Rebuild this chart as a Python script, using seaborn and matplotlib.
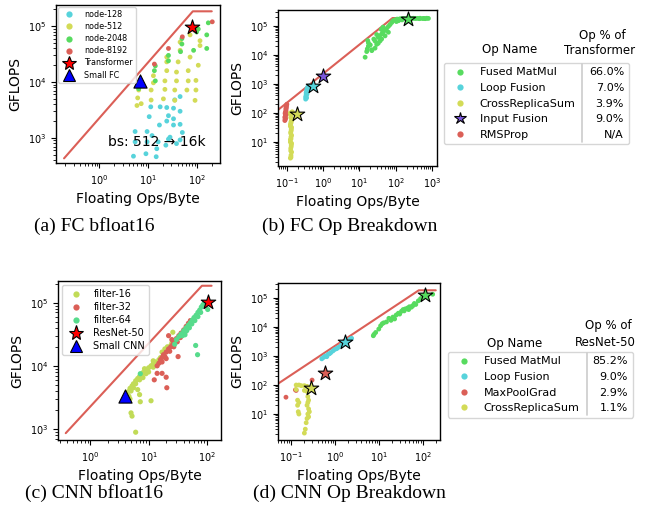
import matplotlib
matplotlib.use("Agg")
import matplotlib.pyplot as plt
from matplotlib.lines import Line2D
import pandas as pd
import seaborn as sns

W, H = 651, 516

RED = "#db5f57"
YEL = "#d3db57"
GRN = "#57db5f"
CYN = "#57d3db"
PUR = "#7b57db"
F16 = "#c1db57"
F64 = "#57db8c"

# ---- (a) FC bfloat16 ----
a_n128_x = [5.0, 9.0, 15, 23, 38, 5.4, 9.5, 16, 26, 45, 5.4, 9.5, 17, 24, 33, 45, 10.5, 17.6,
            26, 33, 35, 24, 45, 11.3, 33, 45, 28, 50, 14.6, 12]
a_n128_y = [470, 520, 640, 740, 790, 850, 850, 850, 950, 920, 1300, 1300, 1700, 2000, 2200, 3000,
            2400, 3600, 2500, 3400, 4800, 3500, 5500, 3600, 1700, 1750, 1030, 1250, 460, 1100]
a_n512_x = [6.1, 6.4, 5.9, 7.2, 11.5, 11.5, 12.8, 20.5, 22, 22, 24, 38, 38, 41, 45, 24, 24, 35,
            62, 66, 66, 72, 72, 95, 95, 106, 115, 115, 91, 35, 12.8, 45]
a_n512_y = [5200, 7200, 3800, 4100, 4760, 7200, 9700, 5000, 7400, 10500, 16000, 10500, 15100,
            23000, 37000, 23000, 28000, 7200, 7200, 10500, 16000, 28000, 70000, 7200, 10700,
            20000, 45000, 55000, 4700, 4700, 13000, 52000]
a_n2048_x = [6.4, 14, 13.4, 14, 26, 26, 49, 49, 46, 85, 91, 106, 158, 158, 170, 98]
a_n2048_y = [7600, 10500, 16000, 19500, 24000, 30000, 48000, 60000, 35000, 37000, 89000, 89000,
             70000, 40000, 115000, 79000]
a_n8192_x = [13.4, 26, 50, 205, 88]
a_n8192_y = [21000, 40000, 64600, 120000, 85000]
a_star = (78, 97000)
a_tri = (6.8, 10500)
a_roof_x = [0.19, 82, 200]
a_roof_y = [430, 185000, 185000]

# ---- (b) FC Op Breakdown ----
b_mm_x = [14.4, 15.9, 16.5, 17.7, 17.7, 17, 21.9, 22, 27, 27, 30, 33, 33, 36, 41, 41, 45, 51, 51,
          56, 63, 63, 70, 78, 85, 96, 110, 132, 160, 202, 250, 309, 400, 470, 600, 720, 800, 120,
          150, 25, 30, 40, 45, 20, 37, 180, 220, 280, 350, 450, 550, 650, 105, 140]
b_mm_y = [8300, 13000, 16000, 20000, 26000, 31000, 15000, 14000, 17000, 30000, 23000, 40000,
          25000, 45000, 35000, 52000, 60000, 45000, 70000, 80000, 60000, 95000, 110000, 130000,
          150000, 160000, 170000, 175000, 180000, 175000, 180000, 182000, 180000, 182000, 180000,
          182000, 180000, 150000, 160000, 35000, 50000, 75000, 90000, 22000, 30000, 176000,
          178000, 176000, 178000, 176000, 178000, 176000, 140000, 168000]
b_lf_x = [0.33, 0.33, 0.34, 0.34, 0.35, 0.36, 0.38, 0.40, 0.35, 0.36, 0.37, 0.34]
b_lf_y = [300, 350, 420, 500, 600, 700, 800, 850, 330, 450, 650, 380]
b_crs_x = [0.125, 0.13, 0.135, 0.128, 0.132, 0.125, 0.13, 0.135, 0.128, 0.132, 0.125, 0.13,
           0.135, 0.128, 0.132, 0.125, 0.14, 0.13, 0.128, 0.132, 0.135, 0.125, 0.13, 0.128,
           0.132, 0.135, 0.125, 0.13, 0.14, 0.145, 0.12]
b_crs_y = [2.8, 3.5, 4.5, 6, 8, 10, 13, 17, 22, 28, 35, 45, 55, 70, 85, 100, 110, 3, 5, 7, 9, 12,
           15, 20, 25, 32, 40, 50, 62, 105, 95]
b_rms_x = [0.088, 0.09, 0.092, 0.09, 0.094, 0.09, 0.092, 0.095, 0.094, 0.096, 0.098, 0.1, 0.088,
           0.09, 0.096]
b_rms_y = [55, 60, 65, 75, 85, 95, 110, 125, 140, 160, 180, 200, 70, 100, 150]
b_star_mm = (215, 175000)
b_star_lf = (0.51, 870)
b_star_if = (0.98, 1950)
b_star_crs = (0.195, 90)
b_roof_x = [0.05, 82, 800]
b_roof_y = [112, 185000, 185000]
b_names = ["Fused MatMul", "Loop Fusion", "CrossReplicaSum", "Input Fusion", "RMSProp"]
b_pcts = ["66.0%", "7.0%", "3.9%", "9.0%", "N/A"]

# ---- (c) CNN bfloat16 ----
c_f16_x = [4.2, 4.5, 4.8, 5.2, 5.5, 6, 6.5, 7, 7.5, 8, 9, 10, 11, 12, 13, 15, 16, 18, 20, 22, 24,
           25, 5, 6, 7, 8, 9, 10, 12, 14, 4.6, 5.5, 17, 19, 21, 8.5, 6.5, 12, 26, 5, 5.2, 7.2, 11,
           6, 7, 4.8]
c_f16_y = [3500, 3900, 4400, 4800, 5200, 5800, 6300, 6800, 7300, 7800, 8500, 9300, 10000, 10800,
           11500, 12500, 13500, 15000, 17000, 19000, 21000, 23000, 4000, 5200, 6000, 6500, 7500,
           8000, 9500, 11000, 3300, 4500, 16500, 18500, 20000, 9000, 4200, 12000, 34000, 1800,
           1600, 2700, 2800, 890, 3500, 3000]
c_f32_x = [14, 15, 16, 17, 18, 20, 22, 24, 26, 28, 30, 33, 36, 40, 44, 48, 52, 17, 19, 23, 27, 31,
           35, 42, 20, 32, 12.5, 14, 17, 20, 20.5, 22, 25]
c_f32_y = [10000, 11000, 12500, 13500, 15000, 16500, 18500, 20000, 22000, 24000, 27000, 30000,
           33000, 37000, 42000, 47000, 52000, 11500, 14000, 17000, 20000, 24000, 28000, 34000,
           13000, 14000, 6000, 7600, 7600, 6600, 4500, 30000, 26000]
c_f64_x = [28, 30, 33, 36, 40, 44, 48, 52, 56, 60, 65, 70, 75, 80, 85, 90, 38, 45, 55, 62, 70, 78,
           50, 42, 7.2, 64, 69, 103]
c_f64_y = [22000, 26000, 29000, 32000, 36000, 40000, 44000, 48000, 53000, 58000, 63000, 70000,
           76000, 85000, 92000, 98000, 30000, 36000, 46000, 52000, 60000, 70000, 40000, 31000,
           7500, 21000, 15000, 78000]
c_star = (103, 103000)
c_tri = (3.9, 3300)
c_roof_x = [0.38, 82, 120]
c_roof_y = [860, 185000, 185000]

# ---- (d) CNN Op Breakdown ----
d_mm_x = [7.5, 7.8, 8.5, 10, 11, 12, 13, 15, 17, 19, 21, 23, 25, 28, 30, 33, 36, 40, 45, 50, 55,
          60, 65, 70, 80, 90, 100, 110, 130, 170, 38, 48, 58]
d_mm_y = [5000, 5600, 6500, 8500, 11000, 13000, 14000, 15000, 20000, 17000, 22000, 19000, 26000,
          30000, 28000, 35000, 40000, 42000, 45000, 50000, 48000, 55000, 65000, 60000, 80000,
          95000, 110000, 120000, 125000, 135000, 36000, 40000, 52000]
d_lf_x = [0.5, 0.55, 0.6, 0.65, 0.7, 0.75, 0.8, 0.9, 1.0, 1.1, 1.2, 1.4, 1.6, 1.9, 2.2, 2.4]
d_lf_y = [800, 900, 1000, 950, 1150, 1200, 1300, 1500, 1700, 1800, 2000, 2400, 2800, 3300, 3800,
          4100]
d_mpg_x = [0.076, 0.125, 0.13, 0.3]
d_mpg_y = [38, 68, 65, 148]
d_crs_x = [0.13, 0.15, 0.17, 0.2, 0.23, 0.13, 0.2, 0.23, 0.14, 0.14, 0.145, 0.15, 0.15, 0.24,
           0.25, 0.23, 0.25, 0.24, 0.23, 0.22, 0.21, 0.2, 0.25, 0.26, 0.24]
d_crs_y = [100, 100, 95, 95, 90, 70, 65, 60, 30, 20, 12, 10, 25, 40, 30, 20, 15, 10, 7, 5, 3, 2.2,
           8, 12, 25]
d_star_mm = (115, 127000)
d_star_lf = (1.7, 3100)
d_star_mpg = (0.59, 265)
d_star_crs = (0.29, 79)
d_roof_x = [0.045, 82, 200]
d_roof_y = [100, 185000, 185000]
d_names = ["Fused MatMul", "Loop Fusion", "MaxPoolGrad", "CrossReplicaSum"]
d_pcts = ["85.2%", "9.0%", "2.9%", "1.1%"]

sns.set_style("ticks")
plt.rcParams["font.family"] = ["DejaVu Sans"]
plt.rcParams.update({
    "xtick.labelsize": 7, "ytick.labelsize": 7,
    "xtick.major.size": 3.5, "ytick.major.size": 3.5,
    "xtick.minor.size": 2, "ytick.minor.size": 2,
    "axes.labelsize": 10, "axes.edgecolor": "black", "axes.linewidth": 1.0,
    "xtick.color": "black", "ytick.color": "black",
    "text.color": "black", "axes.labelcolor": "black",
})

fig = plt.figure(figsize=(W / 100, H / 100), dpi=100)


def box(l, t, r, b):
    return [l / W, 1 - b / H, (r - l) / W, (b - t) / H]


def frame(series):
    parts = [pd.DataFrame({"x": x, "y": y, "series": name}) for name, x, y in series]
    return pd.concat(parts, ignore_index=True)


def panel(rect, series, palette, roof, xlim, ylim, xticks, yticks, size=12):
    ax = fig.add_axes(box(*rect))
    ax.plot(roof[0], roof[1], color=RED, lw=1.5, zorder=1)
    df = frame(series)
    sns.scatterplot(data=df, x="x", y="y", hue="series", palette=palette,
                    hue_order=[s[0] for s in series], s=size, linewidth=0,
                    legend=False, ax=ax, zorder=2)
    ax.set_xscale("log")
    ax.set_yscale("log")
    ax.set_xticks(xticks)
    ax.set_yticks(yticks)
    ax.set_xlim(*xlim)
    ax.set_ylim(*ylim)
    ax.set_xlabel("Floating Ops/Byte")
    ax.set_ylabel("GFLOPS")
    return ax


def star(ax, pt, color, marker="*", s=120):
    sns.scatterplot(x=[pt[0]], y=[pt[1]], marker=marker, s=s, color=color,
                    edgecolor="black", linewidth=0.8, zorder=5, ax=ax)


def dot(color):
    return Line2D([], [], ls="none", marker="o", ms=4.5, color=color, mec="none")


# (a)
ax_a = panel((56, 5, 220, 163),
             [("node-128", a_n128_x, a_n128_y), ("node-512", a_n512_x, a_n512_y),
              ("node-2048", a_n2048_x, a_n2048_y), ("node-8192", a_n8192_x, a_n8192_y)],
             {"node-128": CYN, "node-512": YEL, "node-2048": GRN, "node-8192": RED},
             (a_roof_x, a_roof_y), (0.13, 295), (355, 2.4e5), [1, 10, 100], [1e3, 1e4, 1e5])
star(ax_a, a_star, "red")
star(ax_a, a_tri, "blue", marker="^", s=90)
ax_a.text(15, 850, "bs: 512 \u2192 16k", fontsize=10, ha="center", va="center")
ax_a.legend([dot(CYN), dot(YEL), dot(GRN), dot(RED),
             Line2D([], [], ls="none", marker="*", ms=10, mfc="red", mec="black", mew=0.8),
             Line2D([], [], ls="none", marker="^", ms=8, mfc="blue", mec="black", mew=0.8)],
            ["node-128", "node-512", "node-2048", "node-8192", "Transformer", "Small FC"],
            loc="upper left", fontsize=5.8, borderaxespad=0.25, labelspacing=0.38)

# (b)
ax_b = panel((278, 10, 437, 166),
             [("Fused MatMul", b_mm_x, b_mm_y), ("Loop Fusion", b_lf_x, b_lf_y),
              ("CrossReplicaSum", b_crs_x, b_crs_y), ("RMSProp", b_rms_x, b_rms_y)],
             {"Fused MatMul": GRN, "Loop Fusion": CYN, "CrossReplicaSum": YEL, "RMSProp": RED},
             (b_roof_x, b_roof_y), (0.057, 1380), (1.5, 3.5e5),
             [0.1, 1, 10, 100, 1000], [10, 100, 1e3, 1e4, 1e5])
star(ax_b, b_star_mm, GRN)
star(ax_b, b_star_lf, CYN)
star(ax_b, b_star_if, PUR)
star(ax_b, b_star_crs, YEL)

# (c)
ax_c = panel((58, 281, 221, 440),
             [("filter-16", c_f16_x, c_f16_y), ("filter-32", c_f32_x, c_f32_y),
              ("filter-64", c_f64_x, c_f64_y)],
             {"filter-16": F16, "filter-32": RED, "filter-64": F64},
             (c_roof_x, c_roof_y), (0.28, 174), (670, 2.2e5), [1, 10, 100], [1e3, 1e4, 1e5],
             size=14)
star(ax_c, c_star, "red")
star(ax_c, c_tri, "blue", marker="^", s=90)
ax_c.legend([dot(F16), dot(RED), dot(F64),
             Line2D([], [], ls="none", marker="*", ms=11, mfc="red", mec="black", mew=0.8),
             Line2D([], [], ls="none", marker="^", ms=9, mfc="blue", mec="black", mew=0.8)],
            ["filter-16", "filter-32", "filter-64", "ResNet-50", "Small CNN"],
            loc="upper left", fontsize=7, borderaxespad=0.45, labelspacing=0.3)

# (d)
ax_d = panel((278, 283, 440, 440),
             [("Fused MatMul", d_mm_x, d_mm_y), ("Loop Fusion", d_lf_x, d_lf_y),
              ("MaxPoolGrad", d_mpg_x, d_mpg_y), ("CrossReplicaSum", d_crs_x, d_crs_y)],
             {"Fused MatMul": GRN, "Loop Fusion": CYN, "MaxPoolGrad": RED, "CrossReplicaSum": YEL},
             (d_roof_x, d_roof_y), (0.05, 250), (1.27, 3.3e5),
             [0.1, 1, 10, 100], [10, 100, 1e3, 1e4, 1e5])
star(ax_d, d_star_mm, GRN)
star(ax_d, d_star_lf, CYN)
star(ax_d, d_star_mpg, RED)
star(ax_d, d_star_crs, YEL)


def table_legend(handles, names, pcts, l, t, r, sep_x, pct_x):
    leg = fig.legend(handles, names, loc="upper left", mode="expand", fontsize=8,
                     bbox_to_anchor=(l / W, 1 - t / H, (r - l) / W, 0),
                     bbox_transform=fig.transFigure, borderaxespad=0, labelspacing=0.5)
    fig.canvas.draw()
    rend = fig.canvas.get_renderer()
    for txt, pct in zip(leg.get_texts(), pcts):
        bb = txt.get_window_extent(rend)
        fig.text(pct_x / W, (bb.y0 + bb.y1) / 2 / H, pct, fontsize=8, ha="right",
                 va="center", zorder=10)
    fb = leg.get_frame().get_window_extent(rend)
    fig.add_artist(Line2D([sep_x / W, sep_x / W], [fb.y0 / H + 0.004, fb.y1 / H - 0.002],
                          transform=fig.transFigure, color="0.8", lw=1.2, zorder=10))
    return leg


table_legend([dot(GRN), dot(CYN), dot(YEL),
              Line2D([], [], ls="none", marker="*", ms=9, mfc=PUR, mec="black", mew=0.8),
              dot(RED)], b_names, b_pcts, 444, 63, 629, 582, 624)
fig.text(510 / W, 1 - 50 / H, "Op Name", fontsize=8.5, ha="center", va="center")
fig.text(602 / W, 1 - 35 / H, "Op % of", fontsize=8.5, ha="center", va="center")
fig.text(600 / W, 1 - 50 / H, "Transformer", fontsize=8.5, ha="center", va="center")

table_legend([dot(GRN), dot(CYN), dot(RED), dot(YEL)], d_names, d_pcts, 448, 352, 633, 587, 628)
fig.text(515 / W, 1 - 343 / H, "Op Name", fontsize=8.5, ha="center", va="center")
fig.text(608 / W, 1 - 326 / H, "Op % of", fontsize=8.5, ha="center", va="center")
fig.text(605 / W, 1 - 343 / H, "ResNet-50", fontsize=8.5, ha="center", va="center")

# captions
cap = dict(fontsize=14, ha="center", va="center", family=["Liberation Serif", "DejaVu Serif"])
fig.text(94 / W, 1 - 226 / H, "(a) FC bfloat16", **cap)
fig.text(350 / W, 1 - 226 / H, "(b) FC Op Breakdown", **cap)
fig.text(94 / W, 1 - 493 / H, "(c) CNN bfloat16", **cap)
fig.text(349 / W, 1 - 493 / H, "(d) CNN Op Breakdown", **cap)

fig.savefig("out.png", dpi=100)
